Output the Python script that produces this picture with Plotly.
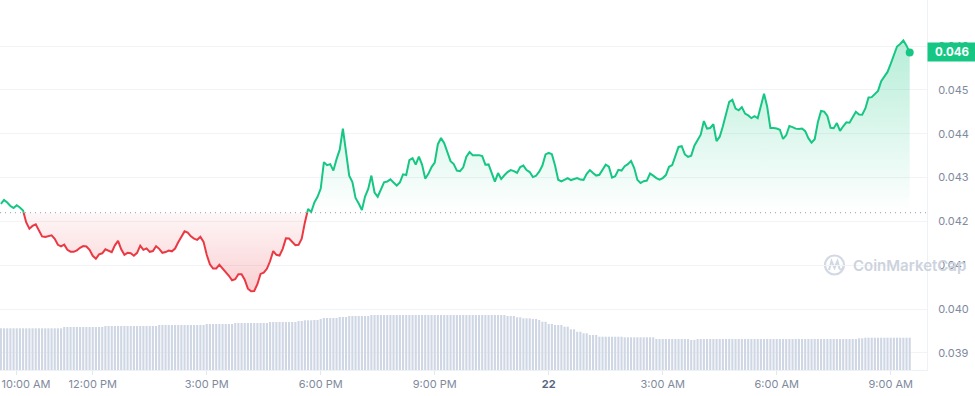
import pandas as pd
import plotly.graph_objects as go

# ---------------- data ----------------
START = "2024-01-21 09:35"
STEP = "5min"
BASELINE = 0.0422          # dotted reference (price 24h ago)
LAST_LABEL = "0.046"

PRICE = [
    0.042398, 0.042489, 0.042432, 0.042352, 0.042307, 0.042370, 0.042318, 0.042250, 0.041977, 0.041834,
    0.041898, 0.041932, 0.041795, 0.041659, 0.041648, 0.041670, 0.041682, 0.041602, 0.041466, 0.041432,
    0.041470, 0.041352, 0.041311, 0.041307, 0.041341, 0.041398, 0.041439, 0.041427, 0.041352, 0.041216,
    0.041148, 0.041250, 0.041273, 0.041364, 0.041330, 0.041300, 0.041455, 0.041557, 0.041364, 0.041239,
    0.041284, 0.041273, 0.041216, 0.041284, 0.041448, 0.041352, 0.041386, 0.041307, 0.041325, 0.041436,
    0.041375, 0.041284, 0.041302, 0.041336, 0.041318, 0.041382, 0.041523, 0.041659, 0.041773, 0.041743,
    0.041659, 0.041607, 0.041580, 0.041648, 0.041534, 0.041239, 0.041023, 0.040925, 0.040927, 0.041011,
    0.040932, 0.040864, 0.040761, 0.040659, 0.040682, 0.040795, 0.040795, 0.040670, 0.040466, 0.040409,
    0.040414, 0.040568, 0.040802, 0.040834, 0.040920, 0.041091, 0.041323, 0.041239, 0.041223, 0.041375,
    0.041614, 0.041609, 0.041523, 0.041459, 0.041466, 0.041607, 0.041977, 0.042284, 0.042216, 0.042432,
    0.042561, 0.042750, 0.043352, 0.043284, 0.043307, 0.043159, 0.043420, 0.043636, 0.044114, 0.043545,
    0.043045, 0.042898, 0.042534, 0.042409, 0.042261, 0.042568, 0.042739, 0.043045, 0.042659, 0.042564,
    0.042727, 0.042893, 0.042909, 0.042959, 0.042886, 0.042818, 0.042891, 0.043073, 0.043057, 0.043398,
    0.043443, 0.043295, 0.043477, 0.043295, 0.042977, 0.043084, 0.043239, 0.043341, 0.043761, 0.043902,
    0.043784, 0.043568, 0.043375, 0.043307, 0.043159, 0.043145, 0.043232, 0.043477, 0.043580, 0.043511,
    0.043518, 0.043511, 0.043489, 0.043295, 0.043300, 0.043102, 0.042909, 0.043102, 0.042966, 0.043052,
    0.043125, 0.043170, 0.043148, 0.043107, 0.043239, 0.043273, 0.043170, 0.043125, 0.043011, 0.043041,
    0.043136, 0.043273, 0.043527, 0.043561, 0.043534, 0.043273, 0.042950, 0.042914, 0.042943, 0.042989,
    0.042943, 0.042961, 0.042989, 0.042955, 0.042948, 0.043084, 0.043170, 0.043102, 0.043045, 0.043064,
    0.043182, 0.043295, 0.043250, 0.043000, 0.043030, 0.043175, 0.043159, 0.043261, 0.043307, 0.043380,
    0.043216, 0.042948, 0.042875, 0.042916, 0.042932, 0.043091, 0.043045, 0.042989, 0.042955, 0.042989,
    0.043057, 0.043245, 0.043284, 0.043489, 0.043698, 0.043716, 0.043527, 0.043473, 0.043500, 0.043727,
    0.043841, 0.043977, 0.044289, 0.044118, 0.044130, 0.044216, 0.043830, 0.043932, 0.044170, 0.044466,
    0.044727, 0.044773, 0.044575, 0.044534, 0.044607, 0.044459, 0.044418, 0.044355, 0.044398, 0.044352,
    0.044636, 0.044909, 0.044614, 0.044130, 0.044130, 0.044120, 0.044091, 0.043880, 0.043966, 0.044177,
    0.044150, 0.044116, 0.044107, 0.044118, 0.044057, 0.043898, 0.043795, 0.043875, 0.044261, 0.044518,
    0.044505, 0.044405, 0.044136, 0.044125, 0.044243, 0.044064, 0.044170, 0.044261, 0.044250, 0.044386,
    0.044500, 0.044439, 0.044432, 0.044575, 0.044825, 0.044834, 0.044902, 0.044977, 0.045198, 0.045318,
    0.045409, 0.045591, 0.045807, 0.045989, 0.046045, 0.046125, 0.046007, 0.045852,
]

# 24h volume (millions, arbitrary scale) for each 5-minute bar
VOLUME_M = [
    4.17, 4.17, 4.17, 4.17, 4.17, 4.17, 4.17, 4.17, 4.17, 4.17,
    4.17, 4.17, 4.17, 4.17, 4.17, 4.17, 4.17, 4.17, 4.17, 4.17,
    4.30, 4.30, 4.30, 4.30, 4.30, 4.30, 4.30, 4.30, 4.30, 4.30,
    4.30, 4.30, 4.30, 4.40, 4.40, 4.40, 4.40, 4.40, 4.40, 4.40,
    4.40, 4.40, 4.40, 4.40, 4.40, 4.40, 4.40, 4.40, 4.40, 4.40,
    4.50, 4.50, 4.50, 4.50, 4.50, 4.50, 4.50, 4.50, 4.50, 4.50,
    4.50, 4.50, 4.50, 4.50, 4.50, 4.60, 4.60, 4.60, 4.60, 4.60,
    4.60, 4.60, 4.60, 4.60, 4.70, 4.70, 4.70, 4.70, 4.70, 4.70,
    4.70, 4.70, 4.70, 4.70, 4.70, 4.80, 4.80, 4.80, 4.80, 4.80,
    4.80, 4.80, 4.80, 4.80, 4.90, 4.90, 4.97, 4.97, 4.97, 5.00,
    5.00, 5.10, 5.20, 5.20, 5.20, 5.20, 5.20, 5.30, 5.30, 5.30,
    5.40, 5.40, 5.40, 5.40, 5.40, 5.40, 5.40, 5.50, 5.50, 5.50,
    5.50, 5.50, 5.50, 5.50, 5.50, 5.50, 5.50, 5.50, 5.50, 5.50,
    5.50, 5.50, 5.50, 5.50, 5.50, 5.50, 5.50, 5.50, 5.50, 5.50,
    5.50, 5.50, 5.50, 5.50, 5.50, 5.50, 5.50, 5.50, 5.50, 5.50,
    5.50, 5.50, 5.50, 5.50, 5.50, 5.50, 5.50, 5.50, 5.50, 5.50,
    5.40, 5.40, 5.40, 5.27, 5.27, 5.17, 5.17, 5.17, 5.10, 5.10,
    5.00, 4.83, 4.83, 4.60, 4.60, 4.50, 4.50, 4.50, 4.33, 4.33,
    4.07, 4.07, 3.83, 3.83, 3.67, 3.67, 3.50, 3.50, 3.50, 3.33,
    3.33, 3.33, 3.33, 3.33, 3.33, 3.33, 3.33, 3.27, 3.27, 3.27,
    3.27, 3.27, 3.27, 3.27, 3.27, 3.27, 3.27, 3.10, 3.10, 3.10,
    3.10, 3.10, 3.10, 3.10, 3.10, 3.10, 3.10, 3.10, 3.00, 3.00,
    3.10, 3.10, 3.10, 3.10, 3.10, 3.10, 3.10, 3.10, 3.10, 3.10,
    3.10, 3.10, 3.10, 3.10, 3.10, 3.10, 3.10, 3.10, 3.10, 3.10,
    3.10, 3.10, 3.10, 3.10, 3.10, 3.10, 3.10, 3.10, 3.10, 3.10,
    3.10, 3.10, 3.10, 3.10, 3.10, 3.10, 3.10, 3.10, 3.10, 3.10,
    3.10, 3.10, 3.10, 3.10, 3.10, 3.10, 3.10, 3.10, 3.10, 3.10,
    3.10, 3.17, 3.17, 3.23, 3.23, 3.23, 3.23, 3.23, 3.23, 3.23,
    3.23, 3.23, 3.23, 3.23, 3.23, 3.23, 3.23, 3.23,
]

X_TICKS = ["2024-01-21 10:00", "2024-01-21 12:00", "2024-01-21 15:00",
           "2024-01-21 18:00", "2024-01-21 21:00", "2024-01-22 00:00",
           "2024-01-22 03:00", "2024-01-22 06:00", "2024-01-22 09:00"]
X_TICK_LABELS = ["&nbsp;&nbsp;&nbsp;&nbsp;&nbsp;&nbsp;10:00 AM", "12:00 PM", "3:00 PM",
                 "6:00 PM", "9:00 PM", "<b><span style='color:#58667e'>22</span></b>",
                 "3:00 AM", "6:00 AM", "9:00 AM"]
Y_TICKS = [0.039, 0.040, 0.041, 0.042, 0.043, 0.044, 0.045, 0.046]
X_RANGE = ["2024-01-21 09:33:35", "2024-01-22 09:57:19"]
Y_RANGE = [0.038612, 0.047049]
VOL_RANGE = [0, 37]

GREEN = "#16c784"
RED = "#ea3943"
TICK_COLOR = "#808a9d"
FONT = "Inter"

# ---------------- build ----------------
times = list(pd.date_range(START, periods=len(PRICE), freq=STEP))
base = BASELINE

# insert baseline crossings so colours switch exactly at the dotted line
ax, ay = [], []
for i in range(len(PRICE)):
    if i > 0:
        p0, p1 = PRICE[i - 1], PRICE[i]
        if (p0 - base) * (p1 - base) < 0:
            t = (base - p0) / (p1 - p0)
            ax.append(times[i - 1] + (times[i] - times[i - 1]) * t)
            ay.append(base)
    ax.append(times[i])
    ay.append(PRICE[i])

up_line = [v if v >= base else None for v in ay]
dn_line = [v if v <= base else None for v in ay]
up_fill = [max(v, base) for v in ay]
dn_fill = [min(v, base) for v in ay]
base_line = [base] * len(ax)

fig = go.Figure()

# volume bars
fig.add_trace(go.Bar(x=times, y=VOLUME_M, yaxis="y2", marker=dict(color="#cfd6e4", line=dict(width=0)),
                     hoverinfo="skip", showlegend=False))

# fills
fig.add_trace(go.Scatter(x=ax, y=base_line, mode="lines", line=dict(width=0), hoverinfo="skip", showlegend=False))
fig.add_trace(go.Scatter(x=ax, y=up_fill, mode="lines", line=dict(width=0), fill="tonexty",
                         fillgradient=dict(type="vertical", start=base, stop=0.0462,
                                           colorscale=[[0, "rgba(22,199,132,0.0)"], [1, "rgba(22,199,132,0.32)"]]),
                         hoverinfo="skip", showlegend=False))
fig.add_trace(go.Scatter(x=ax, y=base_line, mode="lines", line=dict(width=0), hoverinfo="skip", showlegend=False))
fig.add_trace(go.Scatter(x=ax, y=dn_fill, mode="lines", line=dict(width=0), fill="tonexty",
                         fillgradient=dict(type="vertical", start=base, stop=0.0404,
                                           colorscale=[[0, "rgba(234,57,67,0.04)"], [1, "rgba(234,57,67,0.24)"]]),
                         hoverinfo="skip", showlegend=False))

# lines
fig.add_trace(go.Scatter(x=ax, y=up_line, mode="lines", line=dict(color=GREEN, width=2), showlegend=False))
fig.add_trace(go.Scatter(x=ax, y=dn_line, mode="lines", line=dict(color=RED, width=2), showlegend=False))
fig.add_trace(go.Scatter(x=[times[-1]], y=[PRICE[-1]], mode="markers",
                         marker=dict(color=GREEN, size=8), showlegend=False))

W, H = 975, 396
ML, MR, MT, MB = 0, 48, 0, 26
PW, PH = W - ML - MR, H - MT - MB


def px(x):
    return x / PW


def py(y):
    return (PH - y) / PH


shapes = [
    dict(type="line", xref="paper", yref="y", x0=0, x1=1, y0=base, y1=base,
         line=dict(color="#a6b0c3", width=1.3, dash="1px,4px"), layer="above"),
    # watermark logo
    dict(type="circle", xref="paper", yref="paper", x0=px(825), x1=px(844), y0=py(274.5), y1=py(255.5),
         line=dict(color="#d3d9e3", width=2.2), layer="below"),
    dict(type="path", xref="paper", yref="paper",
         path="M {} {} L {} {} L {} {} L {} {} L {} {} Q {} {} {} {}".format(
             px(829), py(270), px(831.5), py(261), px(834.5), py(268), px(837.5), py(261),
             px(839.5), py(268.5), px(841.5), py(271.5), px(843.5), py(266.5)),
         line=dict(color="#d3d9e3", width=2), layer="below"),
]

annotations = [
    dict(xref="paper", yref="paper", x=px(851), y=py(265.5), xanchor="left", yanchor="middle",
         text="CoinMarketCap", showarrow=False,
         font=dict(family=FONT, size=15, color="#cdd3de", weight=600)),
    dict(xref="paper", yref="y", x=1, y=PRICE[-1], xanchor="left", yanchor="middle",
         text="<b>" + LAST_LABEL + "</b>", showarrow=False, bgcolor=GREEN,
         width=44, height=14, borderpad=2, align="center",
         font=dict(family=FONT, size=11.5, color="white")),
]

fig.update_layout(
    width=W, height=H,
    margin=dict(l=ML, r=MR, t=MT, b=MB, pad=0, autoexpand=False),
    paper_bgcolor="white", plot_bgcolor="white",
    bargap=0.33,
    showlegend=False,
    hovermode=False,
    font=dict(family=FONT, size=11, color=TICK_COLOR),
    xaxis=dict(type="date", range=X_RANGE, tickvals=X_TICKS, ticktext=X_TICK_LABELS,
               showgrid=False, zeroline=False, showline=True, linecolor="#eff2f5", linewidth=1,
               ticks="outside", ticklen=4, tickcolor="#e3e7ee", tickwidth=1,
               ticklabeloverflow="allow", automargin=False,
               tickfont=dict(family=FONT, size=11, color=TICK_COLOR)),
    yaxis=dict(side="right", range=Y_RANGE, tickvals=Y_TICKS, tickformat=".3f",
               showgrid=True, gridcolor="#f2f3f6", gridwidth=1, zeroline=False,
               showline=True, linecolor="#eff2f5", linewidth=1, ticks="",
               ticklabelstandoff=8, automargin=False,
               tickfont=dict(family=FONT, size=11, color=TICK_COLOR)),
    yaxis2=dict(overlaying="y", range=VOL_RANGE, visible=False, showgrid=False),
    shapes=shapes,
    annotations=annotations,
)

fig.write_html("out.html", config={"displayModeBar": False, "staticPlot": True},
               post_script="document.body.style.margin='0px';document.body.style.padding='0px';")
